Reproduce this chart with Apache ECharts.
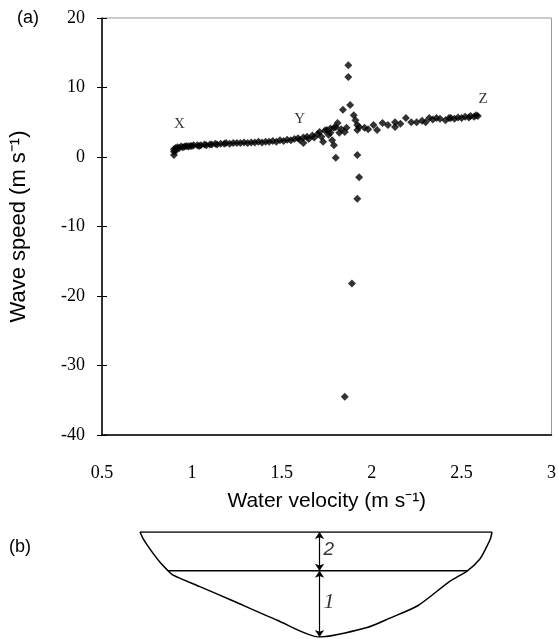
<!DOCTYPE html>
<html>
<head>
<meta charset="utf-8">
<script src="https://cdn.jsdelivr.net/npm/echarts@6/dist/echarts.min.js"></script>
<style>
  html, body { margin: 0; padding: 0; background: #fff; }
  #chart { width: 559px; height: 639px; }
</style>
</head>
<body>
<div id="chart"></div>
<script>
// panel (a): water velocity (m/s) vs wave speed (m/s)
const velocity = [
  0.90, 0.90, 0.90, 0.91, 0.91, 0.92, 0.93, 0.94, 0.95, 0.96, 0.97, 0.98, 0.99, 1.00, 1.01,
  1.03, 1.04, 1.05, 1.07, 1.08, 1.10, 1.11, 1.13, 1.14, 1.16, 1.18, 1.19, 1.21, 1.23, 1.25,
  1.27, 1.29, 1.31, 1.33, 1.35, 1.37, 1.39, 1.41, 1.43, 1.45, 1.47, 1.49, 1.51, 1.53, 1.55,
  1.57, 1.59, 1.60, 1.62, 1.62, 1.64, 1.65, 1.67, 1.68, 1.70, 1.71, 1.72, 1.73, 1.74, 1.75,
  1.76, 1.77, 1.77, 1.78, 1.79, 1.79, 1.80, 1.80, 1.81, 1.82, 1.83, 1.84, 1.85, 1.85, 1.86,
  1.87, 1.87, 1.88, 1.89, 1.90, 1.91, 1.92, 1.92, 1.92, 1.92, 1.93, 1.93, 1.96, 1.98, 2.01,
  2.03, 2.06, 2.09, 2.13, 2.13, 2.16, 2.19, 2.22, 2.25, 2.28, 2.30, 2.32, 2.34, 2.36, 2.38,
  2.41, 2.43, 2.44, 2.46, 2.48, 2.50, 2.52, 2.54, 2.55, 2.57, 2.58, 2.59
];
const waveSpeed = [
  0.3, 0.8, 1.1, 1.3, 0.9, 1.4, 1.3, 1.5, 1.4, 1.5, 1.6, 1.5, 1.6, 1.6, 1.7,
  1.7, 1.6, 1.7, 1.8, 1.7, 1.8, 1.8, 1.9, 1.8, 1.9, 1.9, 2.0, 1.9, 2.0, 2.0,
  2.0, 2.1, 2.0, 2.1, 2.1, 2.2, 2.1, 2.2, 2.2, 2.3, 2.2, 2.4, 2.3, 2.5, 2.4,
  2.6, 2.7, 2.5, 2.0, 2.8, 2.9, 2.6, 3.1, 2.8, 3.3, 3.6, 2.9, 2.2, 3.8, 3.9,
  3.2, 3.5, 4.1, 2.4, 1.7, 4.2, 4.3, -0.1, 4.9, 3.5, 4.0, 6.8, 3.6, -34.5, 4.2,
  13.2, 11.5, 7.5, -18.2, 6.0, 5.3, 4.6, 3.9, 0.3, -6.0, -2.9, 4.3, 4.2, 4.0, 4.6,
  3.9, 4.9, 4.6, 5.0, 4.3, 4.8, 5.6, 5.0, 5.0, 5.2, 5.0, 5.6, 5.4, 5.6, 5.5,
  5.3, 5.6, 5.6, 5.5, 5.7, 5.6, 5.8, 5.7, 5.9, 5.8, 6.0, 5.9
];

// X, Y, Z markers in the plot
const markNames = ['X', 'Y', 'Z'];
const markVelocity = [0.93, 1.60, 2.62];
const markSpeed = [4.8, 5.4, 8.4];

// panel (b): channel cross-section, x in % of width, depth in % of max depth
const surfaceX = [0, 100];
const surfaceDepth = [0, 0];
const bedX = [100, 99.6, 98.5, 96.5, 93, 88, 79, 71, 64.5, 51, 39, 26, 17, 9.4, 8, 5.5, 3, 1, 0];
const bedDepth = [0, 6, 14, 26, 37, 47, 70, 82, 91, 100, 84, 65, 52, 41, 37, 28, 17, 7, 0];
const layerX = [8, 93];
const layerDepth = [37, 37];
const gaugeX = 51;
const layerTop = [0, 37];
const layerBottom = [37, 100];
const layerNames = ['2', '1'];
const layerLabelDepth = [17, 67];

const chart = echarts.init(document.getElementById('chart'), null, { renderer: 'canvas' });

const serif = 'Liberation Serif';
const sans = 'Liberation Sans';

const option = {
  backgroundColor: '#fff',
  animation: false,
  graphic: [
    { type: 'text', left: 17, top: 9, style: { text: '(a)', font: '18px "Liberation Sans"', fill: '#000' } },
    { type: 'text', left: 9, top: 538, style: { text: '(b)', font: '18px "Liberation Sans"', fill: '#000' } }
  ],
  grid: [
    { left: 100, top: 18, width: 458, height: 417, show: true, borderColor: '#999', borderWidth: 1 },
    { left: 140, top: 532, width: 352, height: 105 }
  ],
  xAxis: [
    {
      gridIndex: 0, type: 'value', min: 0.5, max: 3, interval: 0.5,
      name: 'Water velocity (m s\u207B\u00B9)', nameLocation: 'middle', nameGap: 56,
      nameTextStyle: { fontFamily: sans, fontSize: 21, color: '#000' },
      axisLine: { show: true, onZero: false, lineStyle: { color: '#000', width: 1.5 } },
      axisTick: { show: false },
      splitLine: { show: false },
      axisLabel: { fontFamily: serif, fontSize: 18, color: '#000', margin: 29, showMaxLabel: true, showMinLabel: true }
    },
    { gridIndex: 1, type: 'value', min: 0, max: 100, show: false }
  ],
  yAxis: [
    {
      gridIndex: 0, type: 'value', min: -40, max: 20, interval: 10,
      name: 'Wave speed (m s\u207B\u00B9)', nameLocation: 'middle', nameGap: 72, nameRotate: 90,
      nameTextStyle: { fontFamily: sans, fontSize: 22, color: '#000' },
      axisLine: { show: true, onZero: false, lineStyle: { color: '#000', width: 1.5 } },
      axisTick: { show: true, length: 5, lineStyle: { color: '#000' } },
      splitLine: { show: false },
      axisLabel: { fontFamily: serif, fontSize: 18, color: '#000', margin: 17 }
    },
    {
      // inner half of the cross-shaped ticks
      gridIndex: 0, type: 'value', min: -40, max: 20, interval: 10, position: 'left',
      axisLine: { show: false },
      axisTick: { show: true, inside: true, length: 5, lineStyle: { color: '#000' } },
      axisLabel: { show: false },
      splitLine: { show: false }
    },
    { gridIndex: 1, type: 'value', min: 0, max: 100, inverse: true, show: false }
  ],
  series: [
    {
      type: 'scatter', xAxisIndex: 0, yAxisIndex: 0,
      symbol: 'diamond', symbolSize: 8,
      itemStyle: { color: '#000' },
      data: velocity.map((v, i) => [v, waveSpeed[i]])
    },
    {
      type: 'scatter', xAxisIndex: 0, yAxisIndex: 0,
      symbolSize: 0,
      label: {
        show: true, position: 'inside', formatter: p => p.data[2],
        fontFamily: serif, fontSize: 15, color: '#000'
      },
      data: markNames.map((n, i) => [markVelocity[i], markSpeed[i], n])
    },
    {
      type: 'line', xAxisIndex: 1, yAxisIndex: 2, showSymbol: false,
      lineStyle: { color: '#000', width: 1.5 },
      data: surfaceX.map((x, i) => [x, surfaceDepth[i]])
    },
    {
      type: 'line', xAxisIndex: 1, yAxisIndex: 2, showSymbol: false, smooth: 0.25,
      lineStyle: { color: '#000', width: 1.5 },
      data: bedX.map((x, i) => [x, bedDepth[i]])
    },
    {
      type: 'line', xAxisIndex: 1, yAxisIndex: 2, showSymbol: false,
      lineStyle: { color: '#000', width: 1.5 },
      data: layerX.map((x, i) => [x, layerDepth[i]])
    },
    {
      type: 'lines', coordinateSystem: 'cartesian2d', xAxisIndex: 1, yAxisIndex: 2,
      symbol: ['arrow', 'arrow'], symbolSize: 7,
      lineStyle: { color: '#000', width: 1.2, opacity: 1 },
      data: layerTop.map((t, i) => ({ coords: [[gaugeX, t], [gaugeX, layerBottom[i]]] }))
    },
    {
      type: 'scatter', xAxisIndex: 1, yAxisIndex: 2, symbolSize: 0,
      label: {
        show: true, position: 'right', distance: 4,
        // upper layer number is upright sans, lower one italic serif
        formatter: p => (p.dataIndex === 0 ? '{s|' : '{r|') + p.data[2] + '}',
        rich: {
          s: { color: '#000', fontSize: 19, fontStyle: 'italic', fontFamily: sans },
          r: { color: '#000', fontSize: 22, fontStyle: 'italic', fontFamily: serif }
        }
      },
      data: layerNames.map((n, i) => [gaugeX, layerLabelDepth[i], n])
    }
  ]
};

chart.setOption(option);
</script>
</body>
</html>
